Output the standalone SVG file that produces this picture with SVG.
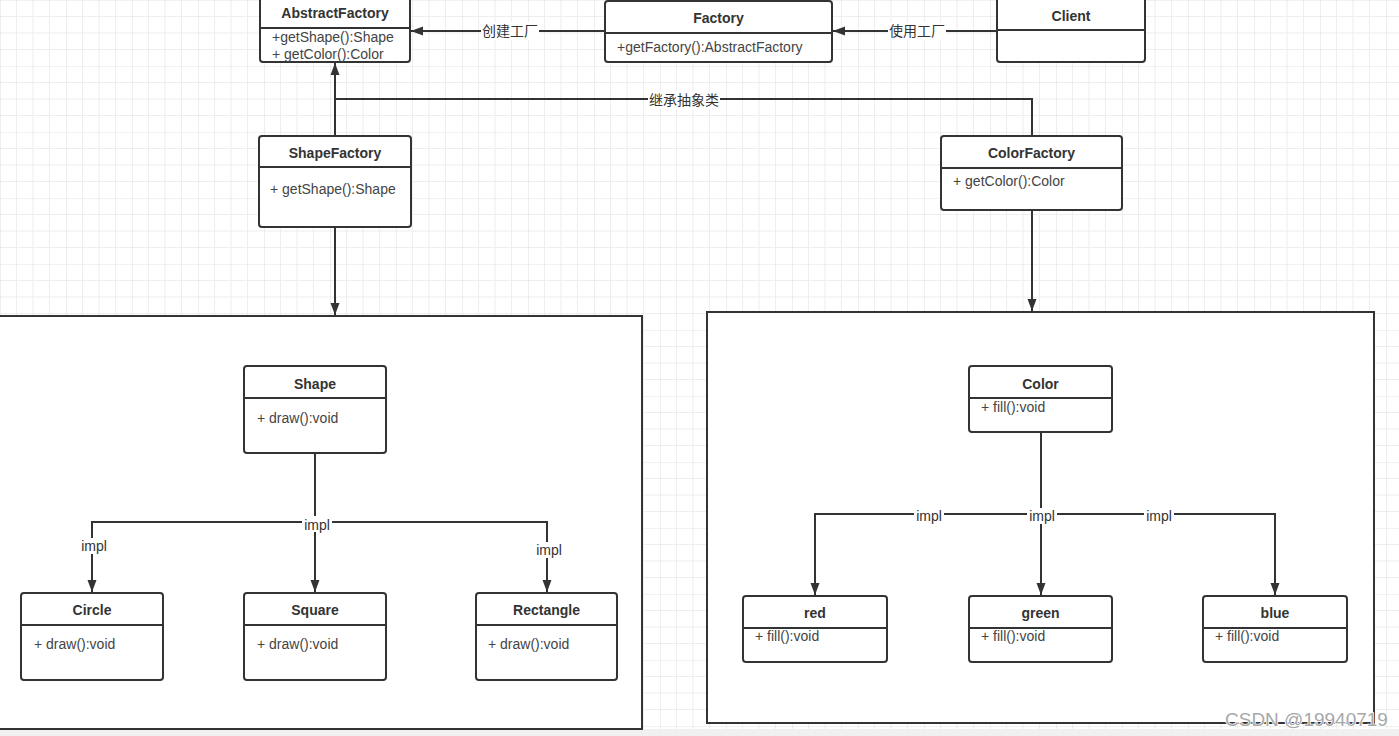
<svg xmlns="http://www.w3.org/2000/svg" width="1399" height="736" viewBox="0 0 1399 736">
<style>
.box{fill:#fff;stroke:#333;stroke-width:2}
.div{stroke:#333;stroke-width:2}
.cont{fill:#fff;stroke:#333;stroke-width:2}
.t{font-family:"Liberation Sans",Arial,sans-serif;font-size:14px;font-weight:bold;fill:#333;text-anchor:middle}
.a{font-family:"Liberation Sans",Arial,sans-serif;font-size:14px;fill:#444}
.ln{fill:none;stroke:#333;stroke-width:2}
.lbl{font-family:"Liberation Sans","Noto Sans CJK SC",sans-serif;font-size:14px;fill:#333;text-anchor:middle}
.lb{fill:#fff}
</style>
<defs>
<pattern id="grid" x="0" y="0" width="66" height="66" patternUnits="userSpaceOnUse">
<rect width="66" height="66" fill="#fff"/>
<path d="M16.5 0V66M33 0V66M49.5 0V66M0 16.5H66M0 33H66M0 49.5H66" stroke="#eeeeee" stroke-width="1"/>
<path d="M0 0V66M0 0H66" stroke="#e3e3e3" stroke-width="1.2"/>
</pattern>
<marker id="arr" viewBox="0 0 12 10" refX="12" refY="5" markerWidth="12" markerHeight="10" markerUnits="userSpaceOnUse" orient="auto">
<path d="M0,0.5 L12,5 L0,9.5 z" fill="#333"/>
</marker>
</defs>
<rect width="1399" height="736" fill="url(#grid)"/>
<rect x="0" y="729" width="1399" height="7" fill="#f0f0f0"/>

<g id="shape-container"><rect class="cont" x="-3" y="316" width="645" height="413"/></g>
<g id="color-container"><rect class="cont" x="707" y="312" width="667" height="411"/></g>

<g id="connectors">
<path class="ln" d="M605 31H411" marker-end="url(#arr)"/>
<rect class="lb" x="481" y="22" width="58" height="18"/>
<text class="lbl" x="510" y="36">创建工厂</text>
<path class="ln" d="M997 31H833" marker-end="url(#arr)"/>
<rect class="lb" x="888" y="22" width="58" height="18"/>
<text class="lbl" x="917" y="36">使用工厂</text>
<path class="ln" d="M1032 136V99H335V63" marker-end="url(#arr)"/>
<path class="ln" d="M335 136V99"/>
<rect class="lb" x="648" y="91" width="72" height="18"/>
<text class="lbl" x="684" y="105">继承抽象类</text>
<path class="ln" d="M335 227V315" marker-end="url(#arr)"/>
<path class="ln" d="M1032 210V311" marker-end="url(#arr)"/>
<path class="ln" d="M315 453V522"/>
<path class="ln" d="M315 522H92V592" marker-end="url(#arr)"/>
<path class="ln" d="M315 522V592" marker-end="url(#arr)"/>
<path class="ln" d="M315 522H547V592" marker-end="url(#arr)"/>
<rect class="lb" x="302" y="516" width="30" height="16"/>
<text class="lbl" x="317" y="530">impl</text>
<rect class="lb" x="79" y="538" width="30" height="16"/>
<text class="lbl" x="94" y="551">impl</text>
<rect class="lb" x="534" y="542" width="30" height="16"/>
<text class="lbl" x="549" y="555">impl</text>
<path class="ln" d="M1041 432V514"/>
<path class="ln" d="M1041 514H815V595" marker-end="url(#arr)"/>
<path class="ln" d="M1041 514V595" marker-end="url(#arr)"/>
<path class="ln" d="M1041 514H1275V595" marker-end="url(#arr)"/>
<rect class="lb" x="914" y="508" width="30" height="16"/>
<text class="lbl" x="929" y="521">impl</text>
<rect class="lb" x="1027" y="508" width="30" height="16"/>
<text class="lbl" x="1042" y="521">impl</text>
<rect class="lb" x="1144" y="508" width="30" height="16"/>
<text class="lbl" x="1159" y="521">impl</text>
</g>

<g id="AbstractFactory">
<rect class="box" x="260" y="-4" width="150" height="66" rx="3"/>
<path class="div" d="M260 28H410"/>
<text class="t" x="335" y="18">AbstractFactory</text>
<text class="a" x="272" y="42">+getShape():Shape</text>
<text class="a" x="272" y="59">+ getColor():Color</text>
</g>
<g id="Factory">
<rect class="box" x="605" y="1" width="227" height="61" rx="3"/>
<path class="div" d="M605 33H832"/>
<text class="t" x="718.5" y="23">Factory</text>
<text class="a" x="617" y="52">+getFactory():AbstractFactory</text>
</g>
<g id="Client">
<rect class="box" x="997" y="-4" width="148" height="66" rx="3"/>
<path class="div" d="M997 30H1145"/>
<text class="t" x="1071" y="21">Client</text>
</g>
<g id="ShapeFactory">
<rect class="box" x="259" y="136" width="152" height="91" rx="3"/>
<path class="div" d="M259 167H411"/>
<text class="t" x="335" y="158">ShapeFactory</text>
<text class="a" x="270" y="194">+ getShape():Shape</text>
</g>
<g id="ColorFactory">
<rect class="box" x="941" y="136" width="181" height="74" rx="3"/>
<path class="div" d="M941 168H1122"/>
<text class="t" x="1031.5" y="158">ColorFactory</text>
<text class="a" x="953" y="186">+ getColor():Color</text>
</g>
<g id="Shape">
<rect class="box" x="244" y="366" width="142" height="87" rx="3"/>
<path class="div" d="M244 398H386"/>
<text class="t" x="315" y="389">Shape</text>
<text class="a" x="257" y="423">+ draw():void</text>
</g>
<g id="Circle">
<rect class="box" x="21" y="593" width="142" height="87" rx="3"/>
<path class="div" d="M21 625H163"/>
<text class="t" x="92" y="615">Circle</text>
<text class="a" x="34" y="649">+ draw():void</text>
</g>
<g id="Square">
<rect class="box" x="244" y="593" width="142" height="87" rx="3"/>
<path class="div" d="M244 625H386"/>
<text class="t" x="315" y="615">Square</text>
<text class="a" x="257" y="649">+ draw():void</text>
</g>
<g id="Rectangle">
<rect class="box" x="476" y="593" width="141" height="87" rx="3"/>
<path class="div" d="M476 625H617"/>
<text class="t" x="546.5" y="615">Rectangle</text>
<text class="a" x="488" y="649">+ draw():void</text>
</g>
<g id="Color">
<rect class="box" x="969" y="366" width="143" height="66" rx="3"/>
<path class="div" d="M969 398H1112"/>
<text class="t" x="1040.5" y="389">Color</text>
<text class="a" x="981" y="412">+ fill():void</text>
</g>
<g id="red">
<rect class="box" x="743" y="596" width="144" height="66" rx="3"/>
<path class="div" d="M743 628H887"/>
<text class="t" x="815" y="618">red</text>
<text class="a" x="755" y="641">+ fill():void</text>
</g>
<g id="green">
<rect class="box" x="969" y="596" width="143" height="66" rx="3"/>
<path class="div" d="M969 628H1112"/>
<text class="t" x="1040.5" y="618">green</text>
<text class="a" x="981" y="641">+ fill():void</text>
</g>
<g id="blue">
<rect class="box" x="1203" y="596" width="144" height="66" rx="3"/>
<path class="div" d="M1203 628H1347"/>
<text class="t" x="1275" y="618">blue</text>
<text class="a" x="1215" y="641">+ fill():void</text>
</g>

<text x="1225" y="726" font-family="'Liberation Sans',Arial,sans-serif" font-size="19" fill="#a8a8a8" stroke="#fff" stroke-width="1.5" paint-order="stroke">CSDN @19940719</text>
</svg>
